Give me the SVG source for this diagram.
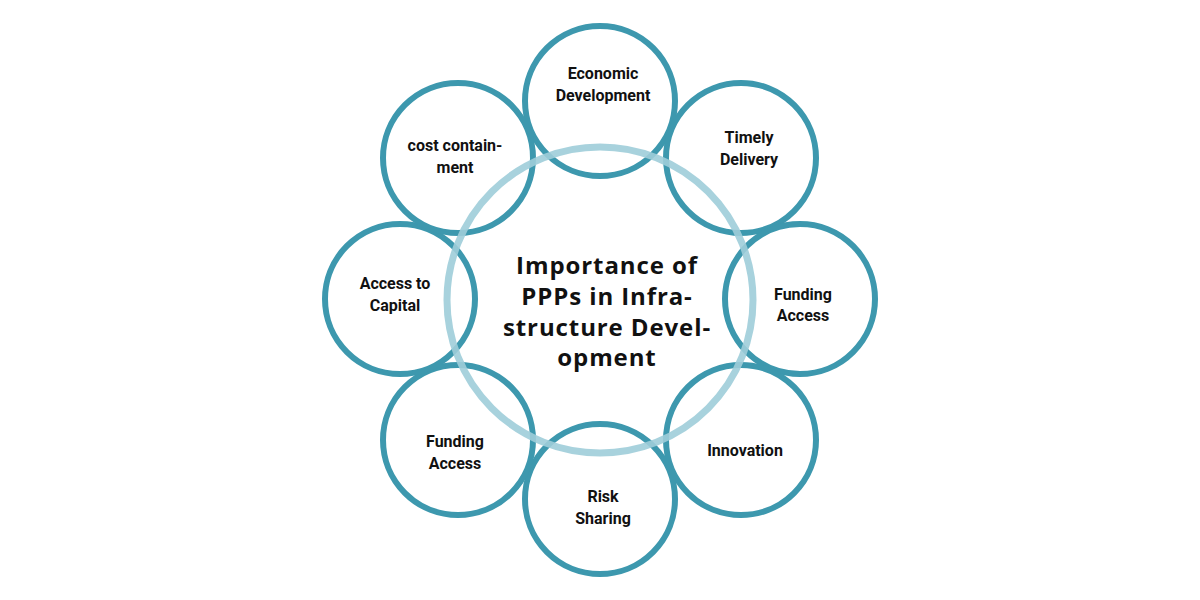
<svg xmlns="http://www.w3.org/2000/svg" width="1200" height="600" viewBox="0 0 1200 600">
<style>
.outer{fill:none;stroke:#3d98ae;stroke-width:6}
.ring{fill:none;stroke:#9fcdd9;stroke-width:7;opacity:0.9}
.lbl{font-family:Roboto,"Liberation Sans",sans-serif;font-weight:bold;font-size:16px;fill:#111;text-anchor:middle}
.ctr{font-family:"Open Sans","DejaVu Sans",sans-serif;font-weight:bold;font-size:24px;letter-spacing:0.9px;fill:#111;text-anchor:middle}
</style>
<rect width="1200" height="600" fill="#fff"/>
<g id="connectors"></g>
<g id="n-econ"><circle class="outer" cx="600" cy="101" r="75"/><text class="lbl" x="603" y="79">Economic</text><text class="lbl" x="603" y="101">Development</text></g>
<g id="n-timely"><circle class="outer" cx="741" cy="158" r="75"/><text class="lbl" x="749" y="143">Timely</text><text class="lbl" x="749" y="165">Delivery</text></g>
<g id="n-fund-r"><circle class="outer" cx="800" cy="299" r="75"/><text class="lbl" x="803" y="300">Funding</text><text class="lbl" x="803" y="321">Access</text></g>
<g id="n-innov"><circle class="outer" cx="741" cy="440" r="75"/><text class="lbl" x="745" y="456">Innovation</text></g>
<g id="n-risk"><circle class="outer" cx="600" cy="499" r="75"/><text class="lbl" x="603" y="502">Risk</text><text class="lbl" x="603" y="524">Sharing</text></g>
<g id="n-fund-l"><circle class="outer" cx="458" cy="440" r="75"/><text class="lbl" x="455" y="447">Funding</text><text class="lbl" x="455" y="469">Access</text></g>
<g id="n-capital"><circle class="outer" cx="400" cy="299" r="75"/><text class="lbl" x="395" y="289">Access to</text><text class="lbl" x="395" y="311">Capital</text></g>
<g id="n-cost"><circle class="outer" cx="458" cy="158" r="75"/><text class="lbl" x="455" y="151">cost contain-</text><text class="lbl" x="455" y="173">ment</text></g>
<g id="n-center"><circle class="ring" cx="600" cy="300" r="153"/>
<text class="ctr" x="607" y="274">Importance of</text>
<text class="ctr" x="607" y="305">PPPs in Infra-</text>
<text class="ctr" x="607" y="336">structure Devel-</text>
<text class="ctr" x="607" y="366">opment</text></g>
</svg>
